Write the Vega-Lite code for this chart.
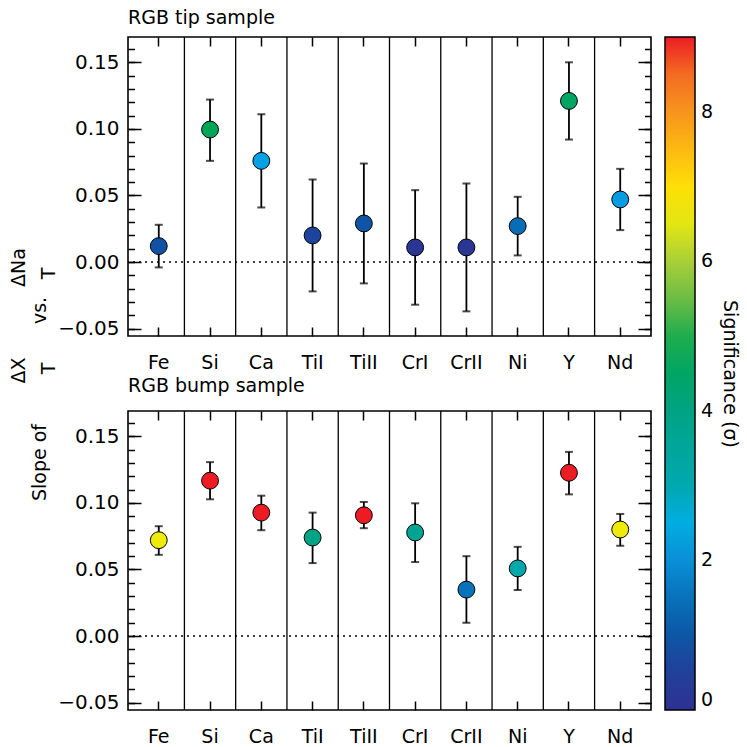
{
  "$schema": "https://vega.github.io/schema/vega-lite/v6.json",
  "background": "white",
  "padding": {"left": 8, "top": 8, "right": 5, "bottom": 5},
  "bounds": "flush",
  "spacing": 75,
  "datasets": {
    "d": [
      {"sample": "tip", "el": "Fe", "slope": 0.012, "lo": -0.004, "hi": 0.028, "sig": 0.9},
      {"sample": "tip", "el": "Si", "slope": 0.0995, "lo": 0.076, "hi": 0.122, "sig": 4.7},
      {"sample": "tip", "el": "Ca", "slope": 0.076, "lo": 0.041, "hi": 0.111, "sig": 2.2},
      {"sample": "tip", "el": "TiI", "slope": 0.020, "lo": -0.022, "hi": 0.062, "sig": 0.6},
      {"sample": "tip", "el": "TiII", "slope": 0.029, "lo": -0.016, "hi": 0.074, "sig": 0.95},
      {"sample": "tip", "el": "CrI", "slope": 0.011, "lo": -0.032, "hi": 0.054, "sig": 0.15},
      {"sample": "tip", "el": "CrII", "slope": 0.011, "lo": -0.037, "hi": 0.059, "sig": 0.15},
      {"sample": "tip", "el": "Ni", "slope": 0.027, "lo": 0.005, "hi": 0.049, "sig": 1.4},
      {"sample": "tip", "el": "Y", "slope": 0.121, "lo": 0.092, "hi": 0.150, "sig": 4.5},
      {"sample": "tip", "el": "Nd", "slope": 0.047, "lo": 0.024, "hi": 0.070, "sig": 2.15},
      {"sample": "bump", "el": "Fe", "slope": 0.072, "lo": 0.061, "hi": 0.0825, "sig": 6.6},
      {"sample": "bump", "el": "Si", "slope": 0.1167, "lo": 0.1027, "hi": 0.1306, "sig": 9},
      {"sample": "bump", "el": "Ca", "slope": 0.0927, "lo": 0.0795, "hi": 0.1054, "sig": 9},
      {"sample": "bump", "el": "TiI", "slope": 0.074, "lo": 0.0548, "hi": 0.0927, "sig": 4.0},
      {"sample": "bump", "el": "TiII", "slope": 0.0907, "lo": 0.081, "hi": 0.1007, "sig": 9},
      {"sample": "bump", "el": "CrI", "slope": 0.0778, "lo": 0.0556, "hi": 0.0997, "sig": 3.7},
      {"sample": "bump", "el": "CrII", "slope": 0.0349, "lo": 0.010, "hi": 0.060, "sig": 1.5},
      {"sample": "bump", "el": "Ni", "slope": 0.0508, "lo": 0.0346, "hi": 0.067, "sig": 3.1},
      {"sample": "bump", "el": "Y", "slope": 0.1226, "lo": 0.1064, "hi": 0.1383, "sig": 9},
      {"sample": "bump", "el": "Nd", "slope": 0.080, "lo": 0.0678, "hi": 0.0917, "sig": 6.6}
    ]
  },
  "resolve": {"scale": {"color": "shared"}},
  "vconcat": [
    {
      "width": 523,
      "height": 299,
      "title": {"text": "RGB tip sample", "anchor": "start", "frame": "group", "fontSize": 19, "fontWeight": "normal", "offset": 8},
      "data": {"name": "d"},
      "transform": [{"filter": "datum.sample === 'tip'"}],
      "resolve": {"axis": {"x": "independent", "y": "independent"}},
      "layer": [
        {
          "transform": [{"filter": "datum.el !== 'Fe'"}],
          "mark": {"type": "rule", "color": "black", "strokeWidth": 1.3},
          "encoding": {
            "x": {"field": "el", "type": "nominal", "sort": ["Fe","Si","Ca","TiI","TiII","CrI","CrII","Ni","Y","Nd"], "bandPosition": 0,
              "scale": {"paddingInner": 0, "paddingOuter": 0.1},
              "axis": {"orient": "bottom", "domain": false, "grid": false, "labelAngle": 0, "tickSize": -9, "tickWidth": 1.5, "tickColor": "black", "labelFontSize": 19, "labelPadding": 26,
                "title": "T", "titleAngle": 270, "titleAlign": "center", "titleBaseline": "alphabetic", "titleX": -74, "titleY": 32, "titleFontSize": 19, "titleFontWeight": "normal"}}
          }
        },
        {
          "transform": [{"filter": "datum.el === 'Fe'"}],
          "mark": {"type": "rule", "color": "black", "strokeWidth": 1.5, "strokeDash": [2, 4]},
          "encoding": {
            "y": {"datum": 0, "type": "quantitative",
              "scale": {"domain": [-0.0555, 0.169], "nice": false, "zero": false},
              "axis": {"orient": "left", "values": [-0.05, 0, 0.05, 0.1, 0.15], "format": ".2f", "domain": false, "grid": false, "tickSize": -13, "tickWidth": 1.5, "tickColor": "black", "labelFontSize": 20, "labelPadding": 22,
                "title": "Slope of", "titleAngle": 270, "titleAlign": "center", "titleBaseline": "alphabetic", "titleX": -83, "titleY": 425, "titleFontSize": 19, "titleFontWeight": "normal"}}
          }
        },
        {
          "mark": {"type": "rule", "color": "black", "strokeWidth": 1.8},
          "encoding": {
            "x": {"field": "el", "type": "nominal", "sort": ["Fe","Si","Ca","TiI","TiII","CrI","CrII","Ni","Y","Nd"],
              "axis": {"orient": "top", "domain": false, "grid": false, "labels": false, "tickSize": -9, "tickWidth": 1.5, "tickColor": "black",
                "title": "T", "titleAngle": 270, "titleAlign": "center", "titleBaseline": "alphabetic", "titleX": -74, "titleY": 236, "titleFontSize": 19, "titleFontWeight": "normal"}},
            "y": {"field": "lo", "type": "quantitative",
              "axis": {"orient": "left", "values": [-0.05,-0.04,-0.03,-0.02,-0.01,0,0.01,0.02,0.03,0.04,0.05,0.06,0.07,0.08,0.09,0.1,0.11,0.12,0.13,0.14,0.15,0.16], "labels": false, "domain": false, "grid": false, "tickSize": -6.5, "tickWidth": 1.5, "tickColor": "black",
                "title": "vs.", "titleAngle": 270, "titleAlign": "center", "titleBaseline": "alphabetic", "titleX": -83, "titleY": 273, "titleFontSize": 19, "titleFontWeight": "normal"}},
            "y2": {"field": "hi"}
          }
        },
        {
          "mark": {"type": "tick", "color": "black", "thickness": 2, "size": 8},
          "encoding": {
            "x": {"field": "el", "type": "nominal", "sort": ["Fe","Si","Ca","TiI","TiII","CrI","CrII","Ni","Y","Nd"], "axis": null},
            "y": {"field": "lo", "type": "quantitative",
              "axis": {"orient": "right", "values": [-0.05, 0, 0.05, 0.1, 0.15], "labels": false, "domain": false, "grid": false, "tickSize": -13, "tickWidth": 1.5, "tickColor": "black",
                "title": "ΔX", "titleAngle": 270, "titleAlign": "center", "titleBaseline": "alphabetic", "titleX": -627, "titleY": 333, "titleFontSize": 19, "titleFontWeight": "normal"}}
          }
        },
        {
          "mark": {"type": "tick", "color": "black", "thickness": 2, "size": 8},
          "encoding": {
            "x": {"field": "el", "type": "nominal", "sort": ["Fe","Si","Ca","TiI","TiII","CrI","CrII","Ni","Y","Nd"], "axis": null},
            "y": {"field": "hi", "type": "quantitative",
              "axis": {"orient": "right", "values": [-0.05,-0.04,-0.03,-0.02,-0.01,0,0.01,0.02,0.03,0.04,0.05,0.06,0.07,0.08,0.09,0.1,0.11,0.12,0.13,0.14,0.15,0.16], "labels": false, "domain": false, "grid": false, "tickSize": -6.5, "tickWidth": 1.5, "tickColor": "black",
                "title": "ΔNa", "titleAngle": 270, "titleAlign": "center", "titleBaseline": "alphabetic", "titleX": -627, "titleY": 230, "titleFontSize": 19, "titleFontWeight": "normal"}}
          }
        },
        {
          "mark": {"type": "circle", "size": 285, "opacity": 1, "stroke": "black", "strokeWidth": 1},
          "encoding": {
            "x": {"field": "el", "type": "nominal", "sort": ["Fe","Si","Ca","TiI","TiII","CrI","CrII","Ni","Y","Nd"], "axis": null},
            "y": {"field": "slope", "type": "quantitative", "axis": null},
            "color": {"field": "sig", "type": "quantitative",
              "scale": {"domain": [0, 0.5, 1, 1.5, 2, 2.35, 3, 4, 4.8, 5.5, 6.1, 6.75, 7.5, 8, 8.5, 9],
                "range": ["#2e3192", "#21409a", "#0d56a6", "#0872bb", "#0a8fd6", "#00aeef", "#00a8b0", "#00a383", "#00a651", "#6cbd45", "#b5d334", "#fff200", "#fdb913", "#f7941d", "#f36c21", "#ed1c24"],
                "interpolate": "rgb", "clamp": true, "zero": false, "nice": false},
              "legend": {"title": "Significance (σ)", "orient": "right", "offset": 12, "direction": "vertical", "gradientLength": 673, "gradientThickness": 30, "gradientStrokeColor": "black", "gradientStrokeWidth": 1.5, "values": [0, 2, 4, 6, 8], "labelFontSize": 19, "labelOffset": 6, "titleOrient": "right", "titleFontSize": 19, "titleFontWeight": "normal", "titleAnchor": "middle", "titlePadding": 7,
                "encode": {"title": {"angle": {"value": -90}, "baseline": {"value": "top"}, "dx": {"value": 22}}}}}
          }
        }
      ]
    },
    {
      "width": 523,
      "height": 299,
      "title": {"text": "RGB bump sample", "anchor": "start", "frame": "group", "fontSize": 19, "fontWeight": "normal", "offset": 14},
      "data": {"name": "d"},
      "transform": [{"filter": "datum.sample === 'bump'"}],
      "resolve": {"axis": {"x": "independent", "y": "independent"}},
      "layer": [
        {
          "transform": [{"filter": "datum.el !== 'Fe'"}],
          "mark": {"type": "rule", "color": "black", "strokeWidth": 1.3},
          "encoding": {
            "x": {"field": "el", "type": "nominal", "sort": ["Fe","Si","Ca","TiI","TiII","CrI","CrII","Ni","Y","Nd"], "bandPosition": 0,
              "scale": {"paddingInner": 0, "paddingOuter": 0.1},
              "axis": {"orient": "bottom", "title": null, "domain": false, "grid": false, "labelAngle": 0, "tickSize": -9, "tickWidth": 1.5, "tickColor": "black", "labelFontSize": 19, "labelPadding": 26}}
          }
        },
        {
          "transform": [{"filter": "datum.el === 'Fe'"}],
          "mark": {"type": "rule", "color": "black", "strokeWidth": 1.5, "strokeDash": [2, 4]},
          "encoding": {
            "y": {"datum": 0, "type": "quantitative",
              "scale": {"domain": [-0.0555, 0.169], "nice": false, "zero": false},
              "axis": {"orient": "left", "values": [-0.05, 0, 0.05, 0.1, 0.15], "format": ".2f", "domain": false, "grid": false, "tickSize": -13, "tickWidth": 1.5, "tickColor": "black", "labelFontSize": 20, "labelPadding": 22, "title": null}}
          }
        },
        {
          "mark": {"type": "rule", "color": "black", "strokeWidth": 1.8},
          "encoding": {
            "x": {"field": "el", "type": "nominal", "sort": ["Fe","Si","Ca","TiI","TiII","CrI","CrII","Ni","Y","Nd"],
              "axis": {"orient": "top", "title": null, "domain": false, "grid": false, "labels": false, "tickSize": -9, "tickWidth": 1.5, "tickColor": "black"}},
            "y": {"field": "lo", "type": "quantitative",
              "axis": {"orient": "left", "values": [-0.05,-0.04,-0.03,-0.02,-0.01,0,0.01,0.02,0.03,0.04,0.05,0.06,0.07,0.08,0.09,0.1,0.11,0.12,0.13,0.14,0.15,0.16], "labels": false, "domain": false, "grid": false, "tickSize": -6.5, "tickWidth": 1.5, "tickColor": "black", "title": null}},
            "y2": {"field": "hi"}
          }
        },
        {
          "mark": {"type": "tick", "color": "black", "thickness": 2, "size": 8},
          "encoding": {
            "x": {"field": "el", "type": "nominal", "sort": ["Fe","Si","Ca","TiI","TiII","CrI","CrII","Ni","Y","Nd"], "axis": null},
            "y": {"field": "lo", "type": "quantitative",
              "axis": {"orient": "right", "values": [-0.05, 0, 0.05, 0.1, 0.15], "labels": false, "domain": false, "grid": false, "tickSize": -13, "tickWidth": 1.5, "tickColor": "black", "title": null}}
          }
        },
        {
          "mark": {"type": "tick", "color": "black", "thickness": 2, "size": 8},
          "encoding": {
            "x": {"field": "el", "type": "nominal", "sort": ["Fe","Si","Ca","TiI","TiII","CrI","CrII","Ni","Y","Nd"], "axis": null},
            "y": {"field": "hi", "type": "quantitative",
              "axis": {"orient": "right", "values": [-0.05,-0.04,-0.03,-0.02,-0.01,0,0.01,0.02,0.03,0.04,0.05,0.06,0.07,0.08,0.09,0.1,0.11,0.12,0.13,0.14,0.15,0.16], "labels": false, "domain": false, "grid": false, "tickSize": -6.5, "tickWidth": 1.5, "tickColor": "black", "title": null}}
          }
        },
        {
          "mark": {"type": "circle", "size": 285, "opacity": 1, "stroke": "black", "strokeWidth": 1},
          "encoding": {
            "x": {"field": "el", "type": "nominal", "sort": ["Fe","Si","Ca","TiI","TiII","CrI","CrII","Ni","Y","Nd"], "axis": null},
            "y": {"field": "slope", "type": "quantitative", "axis": null},
            "color": {"field": "sig", "type": "quantitative"}
          }
        }
      ]
    }
  ],
  "config": {
    "font": "DejaVu Sans",
    "view": {"stroke": "black", "strokeWidth": 1.6},
    "axis": {"labelColor": "black", "titleColor": "black", "labelFont": "DejaVu Sans", "titleFont": "DejaVu Sans"},
    "legend": {"labelColor": "black", "titleColor": "black", "labelFont": "DejaVu Sans", "titleFont": "DejaVu Sans"},
    "title": {"color": "black", "font": "DejaVu Sans"}
  }
}
